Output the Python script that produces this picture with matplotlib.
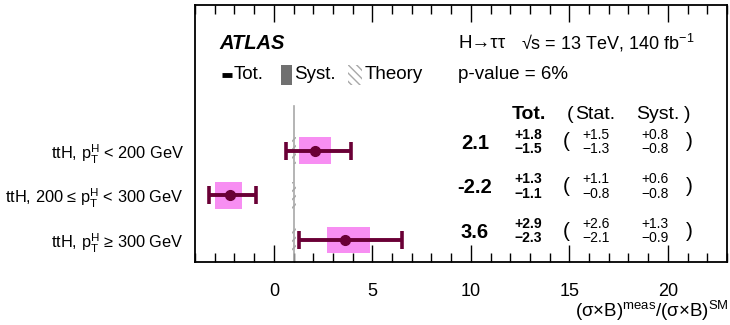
import matplotlib
matplotlib.use("Agg")
import matplotlib.pyplot as plt
from matplotlib.patches import Rectangle
from matplotlib.ticker import MultipleLocator

plt.rcParams['font.family'] = ['Liberation Sans', 'DejaVu Sans']
plt.rcParams['mathtext.fontset'] = 'custom'
plt.rcParams['mathtext.rm'] = 'Liberation Sans'
plt.rcParams['mathtext.it'] = 'Liberation Sans:italic'
plt.rcParams['mathtext.bf'] = 'Liberation Sans:bold'
plt.rcParams['hatch.linewidth'] = 1.0

# ---- data ----
labels = [r"ttH, $\mathrm{p}_{\mathrm{T}}^{\mathrm{H}}$ < 200 GeV",
          r"ttH, 200 ≤ $\mathrm{p}_{\mathrm{T}}^{\mathrm{H}}$ < 300 GeV",
          r"ttH, $\mathrm{p}_{\mathrm{T}}^{\mathrm{H}}$ ≥ 300 GeV"]
central = [2.1, -2.2, 3.6]
tot_up = [1.8, 1.3, 2.9]
tot_dn = [1.5, 1.1, 2.3]
stat_up = [1.5, 1.1, 2.6]
stat_dn = [1.3, 0.8, 2.1]
syst_up = [0.8, 0.6, 1.3]
syst_dn = [0.8, 0.8, 0.9]
sm_value = 1.0
theory_up = [0.15, 0.15, 0.15]
theory_dn = [0.1, 0.1, 0.1]
xticks = [0, 5, 10, 15, 20]

rows = [3, 2, 1]

fig = plt.figure(figsize=(7.3, 3.25), dpi=100)
ax = fig.add_axes([195/730, 63/325, 532/730, 257/325])
ax.set_xlim(-4, 23)
ax.set_ylim(0.507, 6.263)

maroon = '#6a0036'
pink = '#f78ef2'
gray = '#a8a8a8'
hh = 0.3

# SM line
ax.plot([sm_value, sm_value], [0.507, 4.0], color=gray, lw=1.2, zorder=2)

for y, c, tu, td, su, sd, thu, thd in zip(rows, central, tot_up, tot_dn,
                                           syst_up, syst_dn, theory_up, theory_dn):
    ax.add_patch(Rectangle((sm_value - thd, y - hh), thd + thu, 2 * hh,
                           fill=False, hatch='////', edgecolor=gray, lw=0, zorder=2))
    ax.add_patch(Rectangle((c - sd, y - hh), sd + su, 2 * hh,
                           facecolor=pink, edgecolor='none', zorder=3))
    ax.errorbar([c], [y], xerr=[[td], [tu]], fmt='o', color=maroon, ms=7,
                elinewidth=2.8, capsize=6.5, capthick=2.6, zorder=4)

# axes style
ax.set_yticks(rows)
ax.set_yticklabels(labels, fontsize=11.8)
ax.tick_params(axis='y', length=0, pad=8)
ax.set_xticks(xticks)
ax.xaxis.set_minor_locator(MultipleLocator(1))
ax.tick_params(axis='x', which='major', direction='in', top=True, length=12.5,
               width=1.0, labelsize=13, pad=15)
ax.tick_params(axis='x', which='minor', direction='in', top=True, length=6.5, width=1.0)
for s in ax.spines.values():
    s.set_linewidth(1.3)

# header texts
ax.text(-2.75, 5.41, "ATLAS", fontsize=14.5, fontweight='bold', fontstyle='italic',
        va='center', ha='left')
ax.text(9.37, 5.41, "H→ττ", fontsize=13.5, va='center', ha='left')
ax.text(12.55, 5.41, r"√s = 13 TeV, 140 fb$^{\mathrm{-1}}$", fontsize=13,
        va='center', ha='left')
ax.text(9.37, 4.70, "p-value = 6%", fontsize=13.5, va='center', ha='left')

# legend
ly = 4.70
ax.plot([-2.62, -2.1], [ly, ly], color='black', lw=3.5, solid_capstyle='butt')
ax.text(-2.05, ly, "Tot.", fontsize=13.5, va='center', ha='left')
ax.add_patch(Rectangle((0.38, ly - 0.22), 0.56, 0.44, facecolor='#707070', edgecolor='none'))
ax.text(1.04, ly, "Syst.", fontsize=13.5, va='center', ha='left')
ax.add_patch(Rectangle((3.78, ly - 0.22), 0.7, 0.44, fill=False, hatch='\\\\\\\\',
                       edgecolor=gray, lw=0))
ax.text(4.6, ly, "Theory", fontsize=13.5, va='center', ha='left')

# column headers
hy = 3.82
ax.text(12.1, hy, "Tot.", fontsize=14, fontweight='bold', va='center', ha='left')
ax.text(15.05, hy, "(", fontsize=14, va='center', ha='center')
ax.text(15.3, hy, "Stat.", fontsize=14, va='center', ha='left')
ax.text(18.4, hy, "Syst.", fontsize=14, va='center', ha='left')
ax.text(21.0, hy, ")", fontsize=14, va='center', ha='center')

for y, c, tu, td, su, sd, yu, yd in zip(rows, central, tot_up, tot_dn,
                                         stat_up, stat_dn, syst_up, syst_dn):
    ax.text(10.2, y + 0.17, f"{c:.1f}", fontsize=14.5, fontweight='bold',
            va='center', ha='center')
    ax.text(12.2, y + 0.36, f"+{tu:.1f}", fontsize=10, fontweight='bold',
            va='center', ha='left')
    ax.text(12.2, y + 0.04, f"−{td:.1f}", fontsize=10, fontweight='bold',
            va='center', ha='left')
    ax.text(14.85, y + 0.2, "(", fontsize=15, va='center', ha='center')
    ax.text(15.65, y + 0.36, f"+{su:.1f}", fontsize=10, va='center', ha='left')
    ax.text(15.65, y + 0.04, f"−{sd:.1f}", fontsize=10, va='center', ha='left')
    ax.text(18.65, y + 0.36, f"+{yu:.1f}", fontsize=10, va='center', ha='left')
    ax.text(18.65, y + 0.04, f"−{yd:.1f}", fontsize=10, va='center', ha='left')
    ax.text(21.1, y + 0.2, ")", fontsize=15, va='center', ha='center')

fig.text(0.998, 0.006, r"(σ×B)$^{\mathrm{meas}}$/(σ×B)$^{\mathrm{SM}}$", fontsize=13.5,
         ha='right', va='bottom')

fig.savefig("out.png", dpi=100)
